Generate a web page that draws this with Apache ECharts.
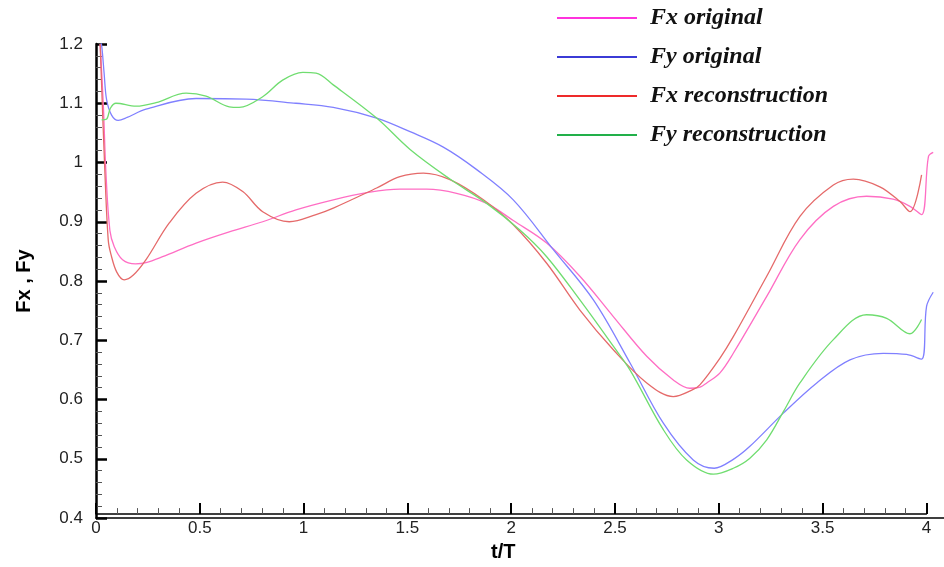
<!DOCTYPE html>
<html>
<head>
<meta charset="utf-8">
<script src="https://cdn.jsdelivr.net/npm/echarts@6/dist/echarts.min.js"></script>
<style>html,body{margin:0;padding:0;background:#fff}#c{width:944px;height:567px}</style>
</head>
<body>
<div id="c"></div>
<script>
// ---- data ----
const seriesNames = ['Fx original', 'Fy original', 'Fx reconstruction', 'Fy reconstruction'];
const xTickLabels = ['0', '0.5', '1', '1.5', '2', '2.5', '3', '3.5', '4'];
const yTickLabels = ['0.4', '0.5', '0.6', '0.7', '0.8', '0.9', '1', '1.1', '1.2'];

const fxOrigT = [0.02,0.035,0.048,0.067,0.088,0.128,0.19,0.241,0.321,0.482,0.642,0.803,0.963,1.143,1.304,1.464,1.593,1.737,1.882,2.010,2.171,2.331,2.492,2.653,2.781,2.861,2.910,2.942,3.006,3.070,3.231,3.391,3.552,3.712,3.840,3.921,3.977,4.010,4.033];
const fxOrigV = [1.20,1.10,0.982,0.885,0.858,0.836,0.829,0.831,0.841,0.864,0.883,0.900,0.920,0.937,0.949,0.955,0.955,0.948,0.931,0.902,0.864,0.808,0.740,0.673,0.633,0.619,0.621,0.628,0.645,0.678,0.774,0.870,0.926,0.943,0.938,0.926,0.912,1.010,1.017];

const fyOrigT = [0.02,0.027,0.039,0.051,0.075,0.107,0.15,0.241,0.482,0.723,0.963,1.143,1.352,1.513,1.673,1.834,2.010,2.203,2.396,2.572,2.733,2.877,2.978,3.070,3.150,3.311,3.472,3.632,3.792,3.905,3.977,4.001,4.033];
const fyOrigV = [1.205,1.198,1.151,1.106,1.080,1.071,1.076,1.090,1.108,1.107,1.100,1.093,1.075,1.052,1.026,0.988,0.937,0.853,0.768,0.662,0.560,0.498,0.484,0.499,0.521,0.577,0.628,0.667,0.678,0.676,0.668,0.757,0.781];

const fxRecT = [0.02,0.043,0.059,0.072,0.10,0.136,0.18,0.241,0.353,0.482,0.610,0.707,0.803,0.931,1.06,1.143,1.352,1.464,1.577,1.705,1.866,2.010,2.171,2.331,2.492,2.653,2.781,2.877,2.910,3.006,3.070,3.231,3.391,3.552,3.648,3.776,3.873,3.921,3.977];
const fxRecV = [1.20,0.982,0.869,0.845,0.815,0.802,0.810,0.836,0.898,0.948,0.967,0.951,0.917,0.900,0.912,0.923,0.957,0.976,0.982,0.971,0.937,0.895,0.830,0.751,0.684,0.628,0.605,0.617,0.625,0.670,0.706,0.808,0.909,0.962,0.972,0.959,0.934,0.917,0.979];

const fyRecT = [0.027,0.05,0.07,0.096,0.193,0.289,0.434,0.530,0.642,0.690,0.803,0.899,0.996,1.06,1.143,1.352,1.513,1.705,1.882,2.042,2.171,2.331,2.492,2.572,2.733,2.845,2.974,3.070,3.150,3.231,3.312,3.391,3.552,3.712,3.809,3.921,3.977];
const fyRecV = [1.072,1.073,1.092,1.100,1.095,1.101,1.117,1.112,1.094,1.093,1.111,1.139,1.152,1.151,1.131,1.075,1.022,0.972,0.931,0.886,0.841,0.768,0.690,0.650,0.549,0.498,0.474,0.484,0.501,0.532,0.580,0.628,0.701,0.743,0.737,0.711,0.735];

const lineColors = ['#ff6ec4', '#8080ff', '#e56a6a', '#70dd70'];
const legendColors = ['#ff33dd', '#3b3bd6', '#ee2a2a', '#22b04a'];

const zip = (t, v) => t.map((x, i) => [x, v[i]]);
const allData = [zip(fxOrigT, fxOrigV), zip(fyOrigT, fyOrigV), zip(fxRecT, fxRecV), zip(fyRecT, fyRecV)];

const chart = echarts.init(document.getElementById('c'), null, {renderer: 'canvas'});
const labelFont = {fontFamily: 'Liberation Sans, Arial, sans-serif', fontSize: 17, color: '#222'};

chart.setOption({
  animation: false,
  backgroundColor: '#fff',
  grid: [
    {left: 96, right: 0, top: 44, bottom: 49},
    {left: 96, right: 17.6, top: 44, bottom: 49}
  ],
  legend: {
    orient: 'vertical',
    left: 552,
    top: 1,
    itemWidth: 80,
    itemHeight: 2,
    itemGap: 15,
    icon: 'rect',
    data: seriesNames.map((n, i) => ({name: n, itemStyle: {color: legendColors[i]}})),
    textStyle: {fontFamily: 'Liberation Serif, Times New Roman, serif', fontStyle: 'italic', fontWeight: 'bold', fontSize: 24, lineHeight: 24, color: '#111', padding: [0, 0, 0, 8]}
  },
  xAxis: [
    {
      type: 'value', gridIndex: 0, min: 0, max: 4.085,
      axisLine: {show: true, lineStyle: {color: '#000', width: 1.5}},
      axisTick: {show: false}, axisLabel: {show: false}, splitLine: {show: false}
    },
    {
      type: 'value', gridIndex: 1, min: 0, max: 4, interval: 0.5,
      name: 't/T', nameLocation: 'middle', nameGap: 20,
      nameTextStyle: {fontFamily: 'Liberation Sans, Arial, sans-serif', fontSize: 20, fontWeight: 'bold', color: '#000', padding: [0, 16, 0, 0]},
      axisLine: {show: true, lineStyle: {color: '#000', width: 1.5}},
      axisTick: {show: true, inside: true, length: 11, lineStyle: {color: '#000', width: 2}},
      minorTick: {show: true, splitNumber: 5, length: 6, lineStyle: {color: '#555', width: 1}},
      axisLabel: Object.assign({margin: 6, formatter: (v) => xTickLabels[Math.round(v * 2)] ?? ''}, labelFont),
      splitLine: {show: false}
    }
  ],
  yAxis: [
    {
      type: 'value', gridIndex: 0, min: 0.4, max: 1.2, interval: 0.1,
      name: 'Fx , Fy', nameLocation: 'middle', nameGap: 62, nameRotate: 90,
      nameTextStyle: {fontFamily: 'Liberation Sans, Arial, sans-serif', fontSize: 20, fontWeight: 'bold', color: '#000'},
      axisLine: {show: true, lineStyle: {color: '#000', width: 2.5}},
      axisTick: {show: true, inside: true, length: 11, lineStyle: {color: '#000', width: 2.5}},
      minorTick: {show: true, splitNumber: 5, length: 6, lineStyle: {color: '#555', width: 1}},
      axisLabel: Object.assign({margin: 13, formatter: (v) => yTickLabels[Math.round((v - 0.4) * 10)] ?? ''}, labelFont),
      splitLine: {show: false}
    },
    {
      type: 'value', gridIndex: 1, min: 0.4, max: 1.2, show: false
    }
  ],
  series: seriesNames.map((n, i) => ({
    name: n,
    type: 'line',
    xAxisIndex: 0,
    yAxisIndex: 0,
    data: allData[i],
    showSymbol: false,
    smooth: 0.35,
    itemStyle: {color: legendColors[i]},
    lineStyle: {color: lineColors[i], width: 1.3}
  }))
});
</script>
</body>
</html>
